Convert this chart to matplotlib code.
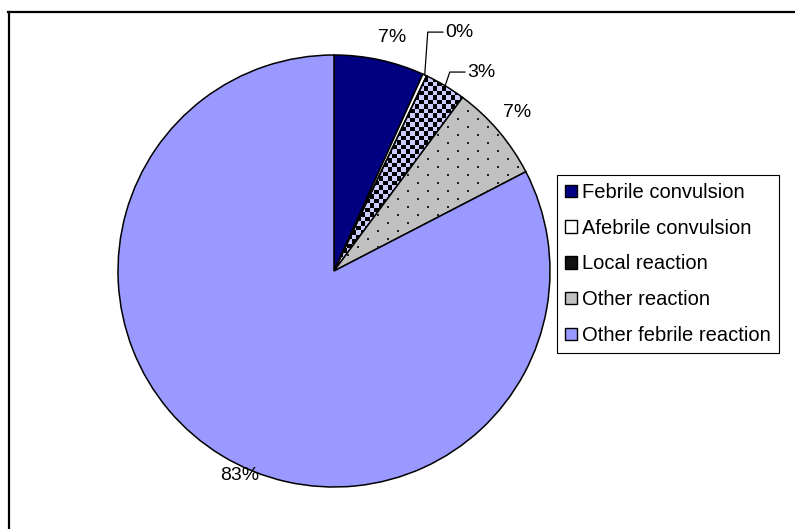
import numpy as np
import matplotlib
matplotlib.use("Agg")
import matplotlib.pyplot as plt
from matplotlib.colors import ListedColormap
from matplotlib.patches import Patch
from matplotlib.lines import Line2D

plt.rcParams['font.family'] = ['Liberation Sans', 'DejaVu Sans']

# datos (porcentajes)
categories = ["Febrile convulsion", "Afebrile convulsion", "Local reaction",
              "Other reaction", "Other febrile reaction"]
values = [6.75, 0.3, 3.1, 7.25, 82.6]
pct_labels = ["7%", "0%", "3%", "7%", "83%"]
colors = ["#000080", "#ffffff", "none", "#c0c0c0", "#9999ff"]

# posiciones de las etiquetas (en unidades del radio)
label_pos = [(0.269, 1.079), (0.514, 1.106), (0.616, 0.921), (0.847, 0.736), (-0.435, -0.949)]
label_ha = ["center", "left", "left", "center", "center"]

W, H = 795, 529
fig = plt.figure(figsize=(W / 100, H / 100), dpi=100)

# pie centrado en (334, 271) px, radio 216 px
cx, cy, r = 334, 271, 216
px = 1.0 / r
ax = fig.add_axes([(cx - r) / W, (H - cy - r) / H, 2 * r / W, 2 * r / H])
ax.axis('off')

wedges, _ = ax.pie(values, colors=colors, startangle=90, counterclock=False,
                   radius=1, wedgeprops=dict(edgecolor='black', linewidth=1.1))

# tablero de ajedrez para "Local reaction"
n = 96
ii, jj = np.meshgrid(np.arange(n), np.arange(n))
checker = (ii + jj) % 2
img = ax.imshow(checker, extent=(-1, 1, -1, 1), cmap=ListedColormap(["#ccccff", "black"]),
                interpolation='nearest', zorder=0.5)
img.set_clip_path(wedges[2])

# puntos para "Other reaction"
rows = np.arange(-1, 1, 8 * px)
pts = []
for k, yy in enumerate(rows):
    xs = np.arange(-1 + (k % 2) * 10 * px, 1, 20 * px)
    pts += [(x, yy) for x in xs]
pts = np.array(pts)
dots = ax.scatter(pts[:, 0], pts[:, 1], s=4, marker='s', color='#222222',
                  linewidths=0, zorder=1.5)
dots.set_clip_path(wedges[3])
ax.set_xlim(-1, 1)
ax.set_ylim(-1, 1)

# etiquetas de porcentaje
for lab, (x, y), ha in zip(pct_labels, label_pos, label_ha):
    ax.text(x, y, lab, ha=ha, va='center', fontsize=14, clip_on=False)

# lineas guia para las porciones pequenas
theta0 = 90.0
cum = np.cumsum([0] + values)
for k in (1, 2):
    mid = np.deg2rad(theta0 - 3.6 * (cum[k] + values[k] / 2))
    ex, ey = np.cos(mid), np.sin(mid)
    tx, ty = label_pos[k]
    ax.plot([ex, tx - 0.08, tx - 0.01], [ey, ty, ty], color='black', lw=0.9, clip_on=False)

# leyenda
handles = [Patch(facecolor=colors[0], edgecolor='black'),
           Patch(facecolor='white', edgecolor='black'),
           Patch(facecolor='#111111', edgecolor='black'),
           Patch(facecolor=colors[3], edgecolor='black'),
           Patch(facecolor=colors[4], edgecolor='black')]
leg = fig.legend(handles, categories, loc='upper left',
                 bbox_to_anchor=(557 / W, 1 - 175 / H), fontsize=14.5,
                 frameon=True, fancybox=False, shadow=False, framealpha=1,
                 edgecolor='black', handlelength=0.57, handleheight=0.57,
                 handletextpad=0.28, labelspacing=0.83, borderpad=0.4,
                 borderaxespad=0)
leg.get_frame().set_linewidth(0.8)

# borde superior e izquierdo
fig.add_artist(Line2D([8 / W, 1], [1 - 12 / H, 1 - 12 / H], color='black', lw=1.6))
fig.add_artist(Line2D([9 / W, 9 / W], [0, 1 - 12 / H], color='black', lw=1.6))

fig.savefig('out.png', dpi=100)
